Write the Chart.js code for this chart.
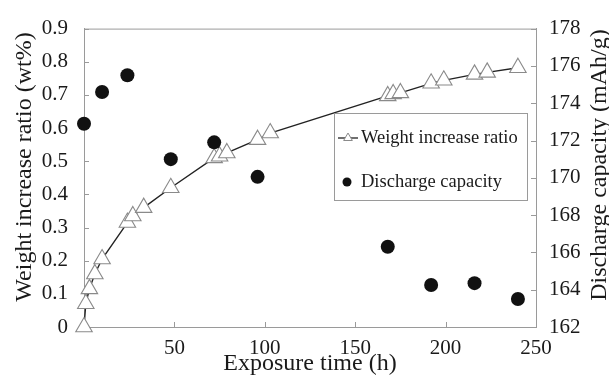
<!DOCTYPE html>
<html lang="en">
<head>
  <meta charset="UTF-8">
  <title>Weight increase ratio and discharge capacity</title>
  <script src="https://cdn.jsdelivr.net/npm/chart.js"></script>
  <style>
    html, body { margin: 0; padding: 0; background: #fff; }
  </style>
</head>
<body>
  <canvas id="chart" width="609" height="378"></canvas>
  <script>
    // exposure time (h) and weight increase ratio (wt%)
    const weightTime = [0, 1, 3, 6, 10, 24, 27, 33, 48, 72, 75, 79, 96, 103, 168, 171, 175, 192, 199, 216, 223, 240];
    const weightRatio = [0, 0.07, 0.115, 0.16, 0.205, 0.315, 0.335, 0.36, 0.42, 0.51, 0.515, 0.525, 0.565, 0.585, 0.697, 0.703, 0.706, 0.735, 0.744, 0.762, 0.768, 0.782];

    // exposure time (h) and discharge capacity (mAh/g)
    const capacityTime = [0, 10, 24, 48, 72, 96, 168, 192, 216, 240];
    const capacityValue = [172.9, 174.6, 175.5, 171.0, 171.9, 170.05, 166.3, 164.25, 164.35, 163.5];

    const seriesNames = ['Weight increase ratio', 'Discharge capacity'];
    const axisTitles = ['Exposure time (h)', 'Weight increase ratio (wt%)', 'Discharge capacity (mAh/g)'];

    const serif = '"Liberation Serif", "Times New Roman", serif';
    const axisGray = '#9a9a9a';
    const textColor = '#1a1a1a';

    const toPoints = (xs, ys) => xs.map((x, i) => ({ x: x, y: ys[i] }));

    function rotatedText(ctx, text, x, y) {
      ctx.save();
      ctx.translate(x, y);
      ctx.rotate(-Math.PI / 2);
      ctx.fillText(text, 0, 0);
      ctx.restore();
    }

    // inside tick marks, top border, y axis titles and the boxed legend
    const decorations = {
      id: 'decorations',
      beforeDatasetsDraw(chart) {
        const { ctx, chartArea: a, scales } = chart;
        ctx.save();
        ctx.strokeStyle = axisGray;
        ctx.lineWidth = 1;
        ctx.beginPath();
        ctx.moveTo(a.left, a.top + 0.5);
        ctx.lineTo(a.right, a.top + 0.5);
        scales.x.ticks.forEach(t => {
          const px = Math.round(scales.x.getPixelForValue(t.value)) + 0.5;
          ctx.moveTo(px, a.bottom);
          ctx.lineTo(px, a.bottom - 5);
        });
        scales.y.ticks.forEach(t => {
          const py = Math.round(scales.y.getPixelForValue(t.value)) + 0.5;
          ctx.moveTo(a.left, py);
          ctx.lineTo(a.left + 5, py);
        });
        scales.y2.ticks.forEach(t => {
          const py = Math.round(scales.y2.getPixelForValue(t.value)) + 0.5;
          ctx.moveTo(a.right, py);
          ctx.lineTo(a.right - 5, py);
        });
        ctx.stroke();
        ctx.restore();
      },
      afterDraw(chart) {
        const { ctx } = chart;
        ctx.save();

        // both y axis titles read bottom to top
        ctx.fillStyle = textColor;
        ctx.font = '24px ' + serif;
        ctx.textAlign = 'center';
        ctx.textBaseline = 'middle';
        rotatedText(ctx, axisTitles[1], 25, 167);
        rotatedText(ctx, axisTitles[2], 600, 165);

        // legend box
        const bx = 334, by = 113, bw = 193, bh = 87;
        ctx.fillStyle = '#fff';
        ctx.fillRect(bx, by, bw, bh);
        ctx.strokeStyle = axisGray;
        ctx.lineWidth = 1;
        ctx.strokeRect(bx + 0.5, by + 0.5, bw, bh);

        const y1 = by + 25, y2 = by + 69;
        ctx.strokeStyle = '#222';
        ctx.lineWidth = 1.3;
        ctx.beginPath();
        ctx.moveTo(338, y1);
        ctx.lineTo(358, y1);
        ctx.stroke();
        // small triangle marker
        const r = 5;
        ctx.fillStyle = '#fff';
        ctx.strokeStyle = '#8a8a8a';
        ctx.lineWidth = 1;
        ctx.beginPath();
        ctx.moveTo(348, y1 - r);
        ctx.lineTo(348 + r * 0.87, y1 + r * 0.5);
        ctx.lineTo(348 - r * 0.87, y1 + r * 0.5);
        ctx.closePath();
        ctx.fill();
        ctx.stroke();
        // dot marker
        ctx.fillStyle = '#111';
        ctx.beginPath();
        ctx.arc(347, y2, 4.5, 0, Math.PI * 2);
        ctx.fill();

        ctx.fillStyle = textColor;
        ctx.font = '18.5px ' + serif;
        ctx.textAlign = 'left';
        ctx.textBaseline = 'middle';
        ctx.fillText(seriesNames[0], 361, y1);
        ctx.fillText(seriesNames[1], 361, y2);
        ctx.restore();
      }
    };

    new Chart(document.getElementById('chart'), {
      type: 'scatter',
      data: {
        datasets: [{
          label: seriesNames[1],
          data: toPoints(capacityTime, capacityValue),
          yAxisID: 'y2',
          clip: false,
          showLine: false,
          pointStyle: 'circle',
          pointRadius: 7,
          pointBackgroundColor: '#111',
          pointBorderColor: '#111',
          pointBorderWidth: 0
        }, {
          label: seriesNames[0],
          data: toPoints(weightTime, weightRatio),
          yAxisID: 'y',
          clip: false,
          showLine: true,
          tension: 0,
          borderColor: '#222',
          borderWidth: 1.4,
          pointStyle: 'triangle',
          pointRadius: 9.5,
          pointBackgroundColor: '#fff',
          pointBorderColor: '#8a8a8a',
          pointBorderWidth: 1.1
        }]
      },
      options: {
        responsive: false,
        animation: false,
        layout: { padding: { top: 21, left: 0, right: 0, bottom: 0 } },
        plugins: {
          legend: { display: false },
          tooltip: { enabled: false }
        },
        scales: {
          x: {
            type: 'linear',
            min: 0,
            max: 250,
            afterFit: s => { s.height = 51; },
            border: { color: axisGray },
            grid: { display: false, drawTicks: false },
            ticks: {
              stepSize: 50,
              padding: 9,
              color: textColor,
              font: { family: serif, size: 21 },
              callback: v => v === 0 ? '' : v
            },
            title: {
              display: true,
              text: axisTitles[0],
              color: textColor,
              padding: 0,
              font: { family: serif, size: 24 }
            }
          },
          y: {
            position: 'left',
            min: 0,
            max: 0.9,
            afterFit: s => { s.width = 84; },
            border: { color: axisGray },
            grid: { display: false, drawTicks: false },
            ticks: {
              stepSize: 0.1,
              padding: 16,
              color: textColor,
              font: { family: serif, size: 21 },
              callback: v => v === 0 ? '0' : v.toFixed(1)
            }
          },
          y2: {
            position: 'right',
            min: 162,
            max: 178,
            afterFit: s => { s.width = 73; },
            border: { color: axisGray },
            grid: { display: false, drawTicks: false },
            ticks: {
              stepSize: 2,
              padding: 13,
              color: textColor,
              font: { family: serif, size: 21 }
            }
          }
        }
      },
      plugins: [decorations]
    });
  </script>
</body>
</html>
